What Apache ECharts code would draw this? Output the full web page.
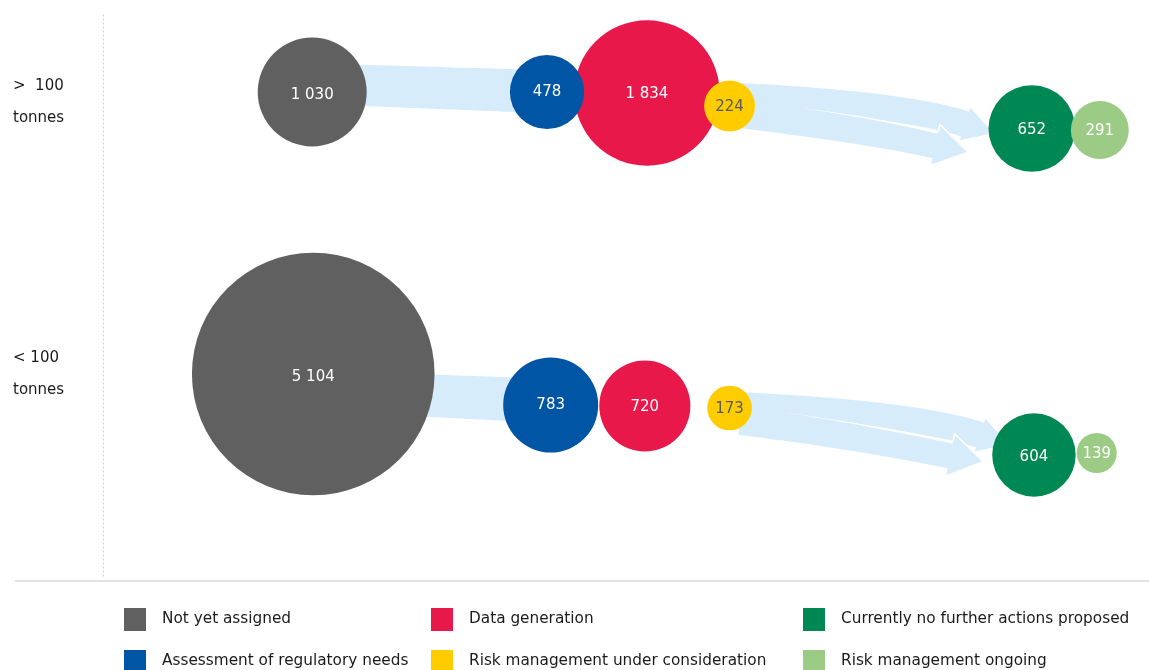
<!DOCTYPE html>
<html>
<head>
<meta charset="utf-8">
<script src="https://cdn.jsdelivr.net/npm/echarts@6/dist/echarts.min.js"></script>
<style>
  html, body { margin: 0; padding: 0; background: #ffffff; }
  #chart { width: 1149px; height: 670px; }
</style>
</head>
<body>
<div id="chart"></div>
<script>
// Regulatory status of registered substances, by tonnage band
const statuses = [
  'Not yet assigned',
  'Assessment of regulatory needs',
  'Data generation',
  'Risk management under consideration',
  'Currently no further actions proposed',
  'Risk management ongoing'
];
const tonnageBands = ['>  100', '< 100'];
const tonnageUnit = 'tonnes';
const countsAbove100 = [1030, 478, 1834, 224, 652, 291];
const countsBelow100 = [5104, 783, 720, 173, 604, 139];

// ---- presentation ----
const FONT = '"DejaVu Sans", Verdana, sans-serif';
const statusColors = ['#606060', '#0055a4', '#e8184a', '#ffcc00', '#008854', '#9ccb86'];
const labelColors = ['#ffffff', '#ffffff', '#ffffff', '#5b5b5b', '#ffffff', '#ffffff'];
const labelOffsets = [[0, 3], [0, 0], [0, 1], [0, 1], [0, 2], [0, 1]];
const statusZ = [3, 5, 3, 6, 3, 4];
const flowColor = '#d7ecfa';
// bubble area is proportional to the count
const bubbleDiameterPerSqrt = 3.396;

// bubble centres in layout units (x: flow progress 0-100, y: 10 px steps)
const layoutAbove100 = [[20.0, 9.2], [42.45, 9.2], [52.0, 9.3], [59.9, 10.6], [88.8, 12.85], [95.3, 13.0]];
const layoutBelow100 = [[20.1, 37.4], [42.8, 40.5], [51.8, 40.6], [59.9, 40.8], [89.0, 45.5], [95.0, 45.3]];

// flow bands between stages (same layout units); widths and heads in px
const flows = [
  { from: [22.66, 8.46], to: [40.82, 9.11], w: [41, 43] },
  { from: [28.39, 39.45], to: [40.82, 40.0], w: [42, 44] },
  { from: [60.9, 9.6], via: [76.67, 10.43], to: [82.41, 12.4], w: [26, 26], head: [17, 30] },
  { from: [60.9, 11.4], via: [72.85, 12.9], to: [79.59, 14.45], w: [28, 28], head: [20.5, 33], overlaps: true },
  { from: [60.9, 40.5], via: [77.72, 41.38], to: [83.84, 43.5], w: [26, 26], head: [17, 30] },
  { from: [60.9, 42.1], via: [71.18, 43.39], to: [81.02, 45.45], w: [28, 28], head: [21, 33], overlaps: true }
];

// legend grid: three columns of two entries
const legendLeft = [124, 431, 803];
const legendTop = [608, 650];

function formatCount(v) {
  return String(v).replace(/\B(?=(\d{3})+(?!\d))/g, ' ');
}

function renderFlow(params, api) {
  const f = flows[params.dataIndex];
  const S = api.coord(f.from);
  const E = api.coord(f.to);
  const C = f.via ? api.coord(f.via) : [(S[0] + E[0]) / 2, (S[1] + E[1]) / 2];
  const upper = [];
  const lower = [];
  const normals = [];
  const steps = 40;
  let tx = 1, ty = 0;
  for (let i = 0; i <= steps; i++) {
    const t = i / steps;
    const a = (1 - t) * (1 - t), b = 2 * t * (1 - t), c = t * t;
    const px = a * S[0] + b * C[0] + c * E[0];
    const py = a * S[1] + b * C[1] + c * E[1];
    tx = 2 * (1 - t) * (C[0] - S[0]) + 2 * t * (E[0] - C[0]);
    ty = 2 * (1 - t) * (C[1] - S[1]) + 2 * t * (E[1] - C[1]);
    const len = Math.hypot(tx, ty) || 1;
    tx /= len; ty /= len;
    const hw = (f.w[0] + (f.w[1] - f.w[0]) * t) / 2;
    normals.push([-ty, tx]);
    upper.push([px + ty * hw, py - tx * hw]);
    lower.push([px - ty * hw, py + tx * hw]);
  }
  let points = upper.slice();
  let barbTop = null, tip = null;
  if (f.head) {
    const h = f.head[0], L = f.head[1];
    barbTop = [E[0] + ty * h, E[1] - tx * h];
    tip = [E[0] + tx * L, E[1] + ty * L];
    points.push(barbTop, tip, [E[0] - ty * h, E[1] + tx * h]);
  }
  points = points.concat(lower.slice().reverse());
  const children = [{
    type: 'polygon',
    shape: { points: points },
    style: { fill: flowColor }
  }];
  if (f.overlaps) {
    // tapered white seam where this arrow runs over its neighbour
    const outer = [], inner = [];
    for (let i = 0; i <= steps; i++) {
      const t = i / steps;
      if (t < 0.2) continue;
      const g = 3 * (t - 0.2) / 0.8;
      outer.push(upper[i]);
      inner.push([upper[i][0] + normals[i][0] * g, upper[i][1] + normals[i][1] * g]);
    }
    children.push({
      type: 'polygon',
      shape: { points: outer.concat(inner.reverse()) },
      style: { fill: '#ffffff' }
    });
    if (barbTop) {
      children.push({
        type: 'polyline',
        shape: { points: [upper[steps], barbTop, tip] },
        style: { stroke: '#ffffff', lineWidth: 1.6, fill: null, lineJoin: 'round' }
      });
    }
  }
  return { type: 'group', children: children };
}

const bubbleSeries = statuses.map((name, i) => ({
  name: name,
  type: 'scatter',
  z: statusZ[i],
  silent: true,
  itemStyle: { color: statusColors[i], opacity: 1 },
  symbolSize: (val) => bubbleDiameterPerSqrt * Math.sqrt(val[2]),
  label: {
    show: true,
    position: 'inside',
    offset: labelOffsets[i],
    formatter: (p) => formatCount(p.value[2]),
    color: labelColors[i],
    fontSize: 15,
    fontFamily: FONT
  },
  emphasis: { disabled: true },
  data: [
    [layoutAbove100[i][0], layoutAbove100[i][1], countsAbove100[i]],
    [layoutBelow100[i][0], layoutBelow100[i][1], countsBelow100[i]]
  ]
}));

const option = {
  animation: false,
  backgroundColor: '#ffffff',
  grid: { left: 103, right: 0, top: 15, bottom: 92, containLabel: false },
  xAxis: {
    type: 'value', min: 0, max: 100,
    axisLine: { show: false }, axisTick: { show: false },
    axisLabel: { show: false }, splitLine: { show: false }
  },
  yAxis: {
    type: 'value', min: 1.5, max: 57.8, inverse: true,
    axisLine: { show: true, onZero: false, lineStyle: { color: '#cfcfcf', width: 1, type: [1, 3] } },
    axisTick: { show: false }, axisLabel: { show: false }, splitLine: { show: false }
  },
  legend: statuses.map((name, i) => ({
    data: [name],
    orient: 'vertical',
    left: legendLeft[Math.floor(i / 2)],
    top: legendTop[i % 2],
    padding: 0,
    itemWidth: 22,
    itemHeight: 23,
    icon: 'rect',
    selectedMode: false,
    textStyle: { fontSize: 15.3, color: '#1a1a1a', fontFamily: FONT, padding: [0, 0, 0, 11] }
  })),
  graphic: [
    {
      type: 'line', silent: true,
      shape: { x1: 15, y1: 581, x2: 1149, y2: 581 },
      style: { stroke: '#e3e3e3', lineWidth: 2 }
    }
  ].concat(tonnageBands.map((band, i) => ({
    type: 'text', silent: true,
    left: 13, top: [70, 342][i],
    style: { text: band + '\n' + tonnageUnit, font: '15px ' + FONT, fill: '#1a1a1a', lineHeight: 32 }
  }))),
  series: [
    {
      type: 'custom',
      z: 1,
      silent: true,
      renderItem: renderFlow,
      encode: { x: 0, y: 1 },
      data: flows.map((f) => f.from)
    }
  ].concat(bubbleSeries)
};

const chart = echarts.init(document.getElementById('chart'), null, { renderer: 'canvas' });
chart.setOption(option);
</script>
</body>
</html>
